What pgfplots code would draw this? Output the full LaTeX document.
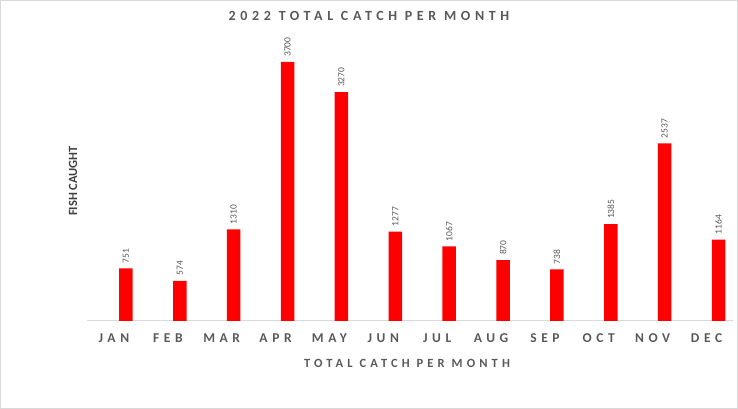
\documentclass[border=0pt]{standalone}
\usepackage{fontspec}
\setmainfont{Carlito}[BoldFont={Carlito Bold}]
\newfontfamily\spacedbf{Carlito Bold}[LetterSpace=33]
\newfontfamily\tickbf{Carlito Bold}[LetterSpace=34]
\newfontfamily\plainbf{Carlito Bold}
\usepackage{pgfplots}
\pgfplotsset{compat=1.18}
\definecolor{txt}{HTML}{595959}
\definecolor{ylab}{HTML}{404040}
\definecolor{barred}{HTML}{FF0000}
\definecolor{framegray}{HTML}{D9D9D9}

\begin{document}
\begin{tikzpicture}[x=1pt,y=1pt]
  % outer frame of the chart area
  \draw[framegray, line width=1pt] (0.5,0.5) rectangle (737.5,408.5);
  \begin{axis}[
      at={(86.5pt,88pt)}, anchor=south west,
      scale only axis,
      width=646.5pt, height=280pt,
      xmin=-0.5, xmax=11.5,
      ymin=0, ymax=4000,
      axis y line=none,
      axis x line=bottom,
      x axis line style={framegray, -, line width=1pt},
      xtick={0,...,11},
      xticklabels={JAN,FEB,MAR,APR,MAY,JUN,JUL,AUG,SEP,OCT,NOV,DEC},
      major tick length=0pt,
      xticklabel style={anchor=base, yshift=-22pt, xshift=0.5pt,
        font=\tickbf\fontsize{13.5}{15}\selectfont, text=txt},
      ybar, bar width=13.5pt,
      /pgf/number format/assume math mode=true,
      /pgf/number format/1000 sep={},
      nodes near coords,
      nodes near coords style={rotate=90, anchor=west,
        inner xsep=5pt, inner ysep=0pt,
        font=\fontsize{9.5}{11}\selectfont, text=txt},
      clip=false,
    ]
    \addplot[ybar, bar shift=12.5pt, fill=barred, draw=none]
      coordinates {(0,751) (1,574) (2,1310) (3,3700) (4,3270) (5,1277)
                   (6,1067) (7,870) (8,738) (9,1385) (10,2537) (11,1164)};
  \end{axis}
  % titles
  \node[text=txt, font=\spacedbf\fontsize{14}{16}\selectfont]
    at (369,392.8) {2022 TOTAL CATCH PER MONTH};
  \node[text=txt, font=\spacedbf\fontsize{12.5}{14}\selectfont]
    at (407,46) {TOTAL CATCH PER MONTH};
  \node[text=ylab, rotate=90, font=\plainbf\fontsize{12.5}{14}\selectfont]
    at (73,228) {FISH CAUGHT};
\end{tikzpicture}
\end{document}
